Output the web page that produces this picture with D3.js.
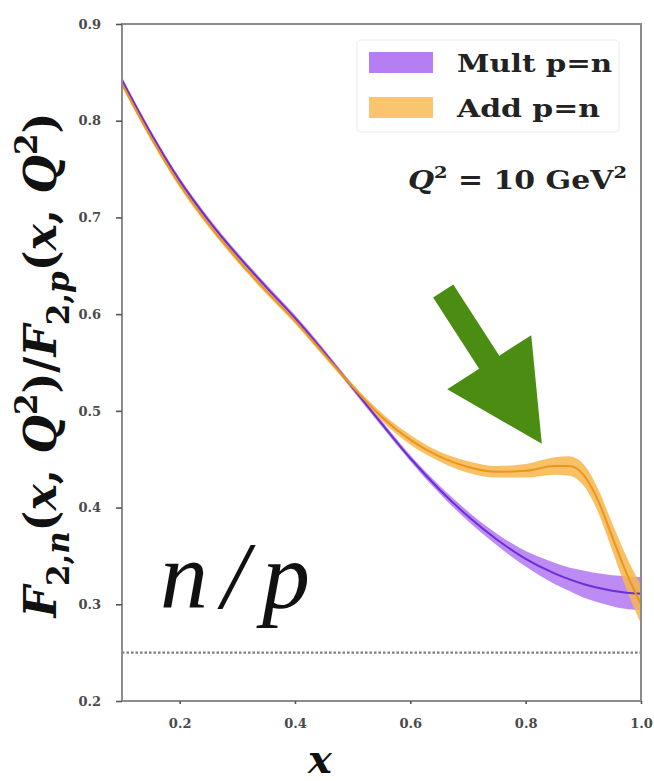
<!DOCTYPE html>
<html>
<head>
<meta charset="utf-8">
<script src="https://cdn.jsdelivr.net/npm/d3@7/dist/d3.min.js"></script>
<style>
  html, body { margin: 0; padding: 0; background: #fff; }
  svg { display: block; }
</style>
</head>
<body>
<script>
// Neutron-to-proton structure function ratio at Q^2 = 10 GeV^2
const xGrid   = [0.1, 0.15, 0.2, 0.25, 0.3, 0.35, 0.4, 0.45, 0.5, 0.55, 0.6, 0.65, 0.7, 0.75, 0.8, 0.85, 0.875, 0.9, 0.925, 0.95, 0.975, 1.0];
const multMid = [0.842, 0.787, 0.738, 0.697, 0.661, 0.628, 0.596, 0.561, 0.524, 0.487, 0.451, 0.419, 0.391, 0.367, 0.347, 0.332, 0.326, 0.321, 0.317, 0.314, 0.312, 0.311];
const multErr = [0.003, 0.003, 0.003, 0.003, 0.003, 0.003, 0.003, 0.003, 0.003, 0.003, 0.003, 0.004, 0.005, 0.006, 0.008, 0.011, 0.012, 0.014, 0.015, 0.016, 0.017, 0.017];
const addMid  = [0.838, 0.783, 0.734, 0.693, 0.657, 0.624, 0.593, 0.559, 0.525, 0.494, 0.470, 0.453, 0.442, 0.437, 0.438, 0.443, 0.443, 0.434, 0.408, 0.370, 0.332, 0.300];
const addErr  = [0.003, 0.003, 0.003, 0.003, 0.003, 0.003, 0.003, 0.003, 0.003, 0.004, 0.005, 0.005, 0.006, 0.006, 0.007, 0.009, 0.010, 0.011, 0.012, 0.014, 0.017, 0.020];
const seriesNames = ["Mult p=n", "Add p=n"];
const xTicks = [0.2, 0.4, 0.6, 0.8, 1.0];
const yTicks = [0.2, 0.3, 0.4, 0.5, 0.6, 0.7, 0.8, 0.9];
const refLevel = 0.25;                       // dotted reference line
const arrowFrom = [0.657, 0.624];            // annotation arrow tail (x, ratio)
const arrowTo   = [0.828, 0.466];            // annotation arrow tip (x, ratio)

const W = 654, H = 781;
const plot = { left: 122, right: 641, top: 24, bottom: 701 };

const svg = d3.select("body").append("svg").attr("width", W).attr("height", H);

const x = d3.scaleLinear().domain([0.1, 1.0]).range([plot.left, plot.right]);
const y = d3.scaleLinear().domain([0.2, 0.9]).range([plot.bottom, plot.top]);

const colors = {
  multBand: "#b277f2", multLine: "#6c2fd6",
  addBand: "#f7b64a", addLine: "#eb9520"
};

const rows = xGrid.map((xv, i) => ({
  x: xv, m: multMid[i], me: multErr[i], a: addMid[i], ae: addErr[i]
}));

const curve = d3.curveMonotoneX;
const g = svg.append("g");

// reference line at 1/4
g.append("line")
  .attr("x1", x(0.1)).attr("x2", x(1.0))
  .attr("y1", y(refLevel)).attr("y2", y(refLevel))
  .attr("stroke", "#808080").attr("stroke-width", 2.2)
  .attr("stroke-dasharray", "2.5,2");

// uncertainty bands
const band = (mid, err) => d3.area().curve(curve)
  .x(d => x(d.x)).y0(d => y(d[mid] - d[err])).y1(d => y(d[mid] + d[err]));
const line = (mid) => d3.line().curve(curve).x(d => x(d.x)).y(d => y(d[mid]));

g.append("path").datum(rows).attr("d", band("m", "me"))
  .attr("fill", colors.multBand).attr("fill-opacity", 0.85);
g.append("path").datum(rows).attr("d", band("a", "ae"))
  .attr("fill", colors.addBand).attr("fill-opacity", 0.85);
g.append("path").datum(rows).attr("d", line("m"))
  .attr("fill", "none").attr("stroke", colors.multLine).attr("stroke-width", 2);
g.append("path").datum(rows).attr("d", line("a"))
  .attr("fill", "none").attr("stroke", colors.addLine).attr("stroke-width", 2);

// annotation arrow
(function drawArrow() {
  const x0 = x(arrowFrom[0]), y0 = y(arrowFrom[1]);
  const x1 = x(arrowTo[0]), y1 = y(arrowTo[1]);
  const dx = x1 - x0, dy = y1 - y0, L = Math.hypot(dx, dy);
  const ux = dx / L, uy = dy / L, nx = -uy, ny = ux;
  const shaftW = 12, headW = 50, headL = 97;
  const bx = x1 - ux * headL, by = y1 - uy * headL;
  const pts = [
    [x0 + nx * shaftW, y0 + ny * shaftW],
    [bx + nx * shaftW, by + ny * shaftW],
    [bx + nx * headW, by + ny * headW],
    [x1, y1],
    [bx - nx * headW, by - ny * headW],
    [bx - nx * shaftW, by - ny * shaftW],
    [x0 - nx * shaftW, y0 - ny * shaftW]
  ];
  g.append("polygon").attr("points", pts.map(p => p.join(",")).join(" "))
    .attr("fill", "#4b8c12");
})();

// frame
svg.append("rect")
  .attr("x", plot.left).attr("y", plot.top)
  .attr("width", plot.right - plot.left).attr("height", plot.bottom - plot.top)
  .attr("fill", "none").attr("stroke", "#8c8c8c").attr("stroke-width", 2);

// axes
const fmt = d3.format(".1f");
const yAxis = svg.append("g").attr("transform", `translate(${plot.left},0)`)
  .call(d3.axisLeft(y).tickValues(yTicks).tickFormat(fmt).tickSize(6).tickPadding(15));
const xAxis = svg.append("g").attr("transform", `translate(0,${plot.bottom})`)
  .call(d3.axisBottom(x).tickValues(xTicks).tickFormat(fmt).tickSize(3).tickPadding(15));
[xAxis, yAxis].forEach(ax => {
  ax.select(".domain").remove();
  ax.selectAll(".tick line").attr("stroke", "#555").attr("stroke-width", 1.6);
  ax.selectAll(".tick text")
    .attr("font-family", "'DejaVu Serif', serif").attr("font-weight", "bold")
    .attr("font-size", 13).attr("fill", "#4a4a4a");
});

// x axis title
svg.append("text").attr("x", 320).attr("y", 773).attr("text-anchor", "middle")
  .attr("font-family", "'DejaVu Serif', serif").attr("font-weight", "bold")
  .attr("font-style", "italic").attr("font-size", 40).attr("fill", "#111").text("x");

// y axis title: F_{2,n}(x, Q^2) / F_{2,p}(x, Q^2)
const yt = svg.append("text")
  .attr("transform", "translate(56,365) rotate(-90)")
  .attr("text-anchor", "middle")
  .attr("font-family", "'DejaVu Serif', serif").attr("font-weight", "bold")
  .attr("fill", "#111").attr("font-size", 34);
const parts = [
  ["F", "i", 0], ["2,", "u", 1], ["n", "i", 1], ["(", "u", 0], ["x", "i", 0], [", ", "u", 0],
  ["Q", "i", 0], ["2", "u", 2], [")/", "u", 0],
  ["F", "i", 0], ["2,", "u", 1], ["p", "i", 1], ["(", "u", 0], ["x", "i", 0], [", ", "u", 0],
  ["Q", "i", 0], ["2", "u", 2], [")", "u", 0]
];
const shift = { 0: 0, 1: 0.3, 2: -0.42 };
parts.forEach(([t, st, lv]) => {
  yt.append("tspan").text(t)
    .attr("font-style", st === "i" ? "italic" : "normal")
    .attr("font-size", lv === 0 ? "1em" : "0.7em");
});
function placeTitle(fs) {
  yt.attr("font-size", fs);
  let lv0 = 0;
  yt.selectAll("tspan").each(function (d, i) {
    const lv = parts[i][2];
    d3.select(this).attr("dy", ((shift[lv] - shift[lv0]) * fs).toFixed(2));
    lv0 = lv;
  });
}
placeTitle(34);
// fit title length to the axis span
placeTitle(34 * 505 / yt.node().getComputedTextLength());

// big n/p label
svg.append("text").attr("x", 160).attr("y", 608)
  .attr("font-family", "'Liberation Serif', serif").attr("font-style", "italic")
  .attr("font-size", 96).attr("fill", "#111")
  .attr("textLength", 150).attr("lengthAdjust", "spacing").text("n/p");

// legend
const legend = svg.append("g");
legend.append("rect").attr("x", 357).attr("y", 40).attr("width", 262).attr("height", 92)
  .attr("rx", 4).attr("fill", "#fff").attr("stroke", "#f2f2f2").attr("stroke-width", 1.5);
const legendItems = [
  { name: seriesNames[0], fill: colors.multBand, w: 155 },
  { name: seriesNames[1], fill: colors.addBand, w: 143 }
];
legendItems.forEach((it, i) => {
  const yy = 52 + i * 45;
  legend.append("rect").attr("x", 369).attr("y", yy).attr("width", 64).attr("height", 21)
    .attr("fill", it.fill).attr("fill-opacity", i === 0 ? 0.95 : 0.8);
  legend.append("text").attr("x", 457).attr("y", yy + 20)
    .attr("font-family", "'DejaVu Serif', serif").attr("font-weight", "bold")
    .attr("font-size", 25).attr("fill", "#222")
    .attr("textLength", it.w).attr("lengthAdjust", "spacingAndGlyphs").text(it.name);
});

// scale annotation
const q = svg.append("text").attr("x", 408).attr("y", 189)
  .attr("font-family", "'DejaVu Serif', serif").attr("font-weight", "bold")
  .attr("font-size", 26).attr("fill", "#222")
  .attr("textLength", 219).attr("lengthAdjust", "spacingAndGlyphs");
q.append("tspan").attr("font-style", "italic").text("Q");
q.append("tspan").attr("font-size", "0.65em").attr("dy", -11).text("2");
q.append("tspan").attr("dy", 11).text(" = 10 GeV");
q.append("tspan").attr("font-size", "0.65em").attr("dy", -11).text("2");
</script>
</body>
</html>
